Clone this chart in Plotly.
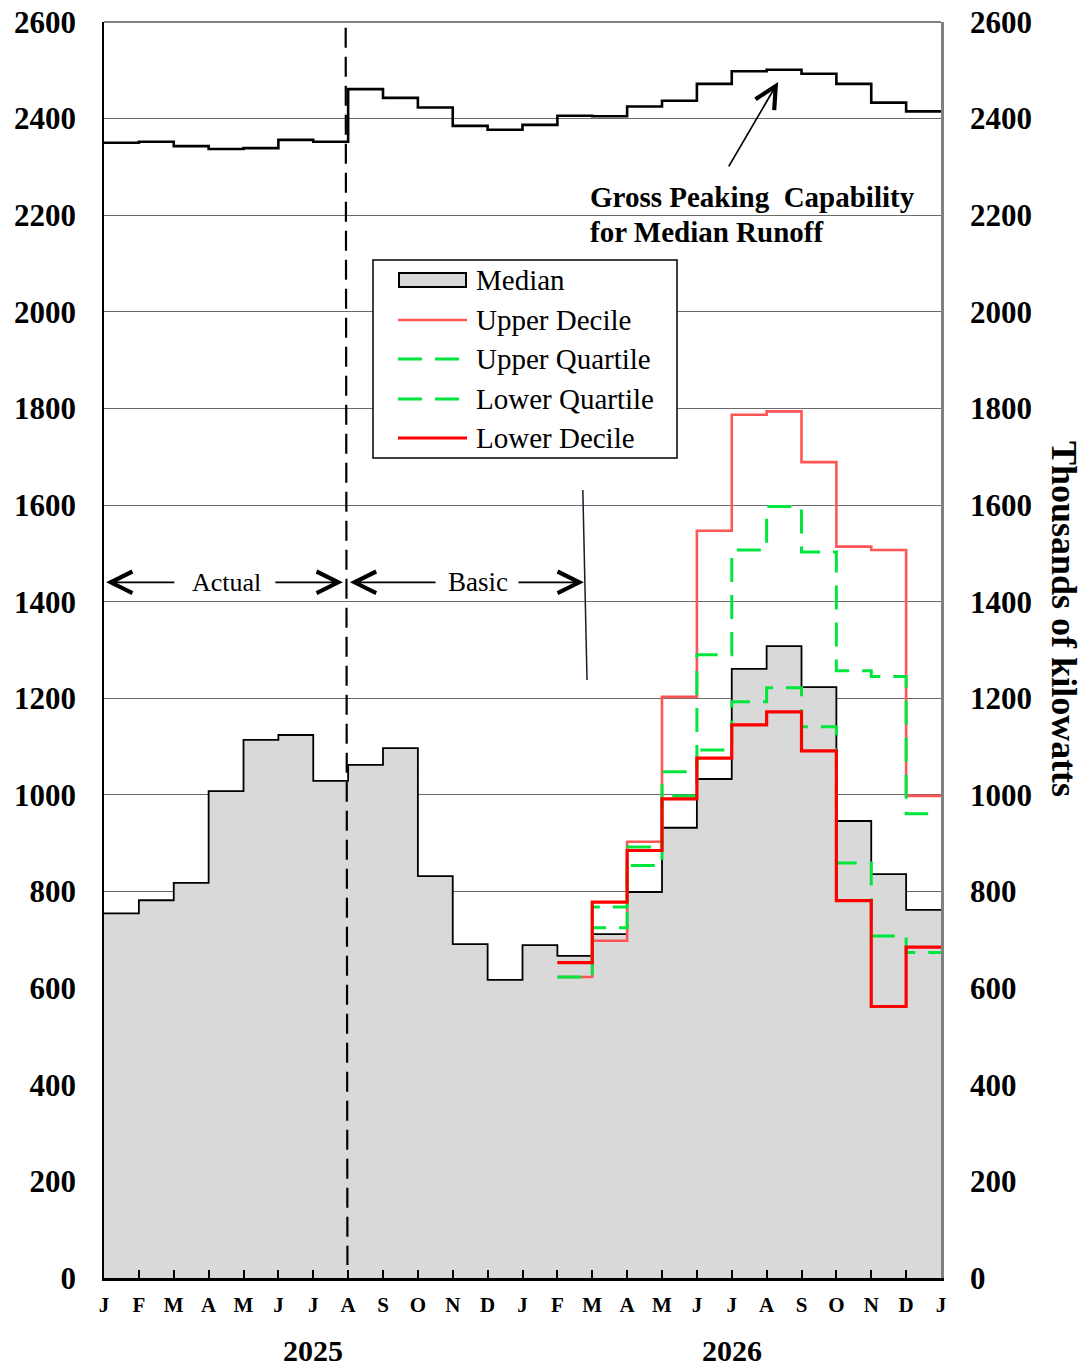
import plotly.graph_objects as go

months = ["J","F","M","A","M","J","J","A","S","O","N","D",
          "J","F","M","A","M","J","J","A","S","O","N","D","J"]
years = ["2025", "2026"]

median = [755, 782, 818, 1008, 1114, 1124, 1029, 1062, 1097, 832, 691, 617,
          689, 667, 712, 799, 932, 1033, 1261, 1308, 1223, 946, 836, 762]
gross = [2350, 2352, 2343, 2337, 2339, 2356, 2352, 2461, 2443, 2423, 2385, 2377,
         2387, 2406, 2405, 2425, 2437, 2472, 2498, 2501, 2493, 2472, 2433, 2415]
# forecast series start at Feb 2026 (month index 13)
upper_decile = [623, 698, 903, 1203, 1547, 1787, 1794, 1689, 1514, 1507, 998]
upper_quartile = [653, 768, 892, 1048, 1290, 1507, 1597, 1503, 1257, 1245, 961]
lower_quartile = [623, 725, 854, 998, 1093, 1193, 1222, 1141, 859, 708, 674]
lower_decile = [653, 778, 885, 992, 1076, 1145, 1172, 1091, 781, 562, 685]

FONT = "Liberation Serif"
DASH = "24px,13px"
C_UD, C_Q, C_LD = "#FF5555", "#00E63C", "#FF0000"

def steps(start, vals):
    xs = list(range(start, start + len(vals) + 1))
    ys = list(vals) + [vals[-1]]
    return xs, ys

fig = go.Figure()

mx, my = steps(0, median)
fig.add_trace(go.Scatter(x=mx, y=my, mode="lines", line=dict(shape="hv", color="black", width=1.8),
                         fill="tozeroy", fillcolor="#D9D9D9", name="Median"))
ux, uy = steps(13, upper_decile)
fig.add_trace(go.Scatter(x=ux, y=uy, mode="lines", line=dict(shape="hv", color=C_UD, width=2.6),
                         name="Upper Decile"))
qx, qy = steps(13, upper_quartile)
fig.add_trace(go.Scatter(x=qx, y=qy, mode="lines",
                         line=dict(shape="hv", color=C_Q, width=3, dash=DASH), name="Upper Quartile"))
lx, ly = steps(13, lower_quartile)
fig.add_trace(go.Scatter(x=lx, y=ly, mode="lines",
                         line=dict(shape="hv", color=C_Q, width=3, dash=DASH), name="Lower Quartile"))
dx, dy = steps(13, lower_decile)
fig.add_trace(go.Scatter(x=dx, y=dy, mode="lines", line=dict(shape="hv", color=C_LD, width=3.2),
                         name="Lower Decile"))
gx, gy = steps(0, gross)
fig.add_trace(go.Scatter(x=gx, y=gy, mode="lines", line=dict(shape="hv", color="black", width=2.6),
                         name="Gross Peaking Capability", yaxis="y2"))

shapes = []
# vertical dashed line separating actual/basic
shapes.append(dict(type="line", x0=6.93, x1=6.98, y0=2588, y1=27, xref="x", yref="y",
                   line=dict(color="black", width=2.2, dash="20px,9px")))
# thin slanted marker line
shapes.append(dict(type="line", x0=13.73, x1=13.85, y0=1631, y1=1238, xref="x", yref="y",
                   line=dict(color="#2a1030", width=1.5)))
# top frame line
shapes.append(dict(type="line", x0=0, x1=1, y0=1, y1=1, xref="paper", yref="paper",
                   line=dict(color="#808080", width=2)))

# ---- legend box (drawn manually for exact symbol look) ----
PX0, PW, PY0, PH = 104, 837, 1278, 1256
def px(v): return (v - PX0) / PW
def py(v): return (PY0 - v) / PH

shapes.append(dict(type="rect", xref="paper", yref="paper", x0=px(373), x1=px(677), y0=py(458), y1=py(260),
                   fillcolor="white", line=dict(color="black", width=1.5)))
legend_items = [("Median", None), ("Upper Decile", dict(color=C_UD, width=2.6)),
                ("Upper Quartile", dict(color=C_Q, width=3, dash=DASH)),
                ("Lower Quartile", dict(color=C_Q, width=3, dash=DASH)),
                ("Lower Decile", dict(color=C_LD, width=3.2))]
legend_y = [280, 320, 359, 399, 438]
ann = []
for (label, style), yc in zip(legend_items, legend_y):
    if style is None:
        shapes.append(dict(type="rect", xref="paper", yref="paper", x0=px(399), x1=px(466),
                           y0=py(yc + 7), y1=py(yc - 7), fillcolor="#D9D9D9",
                           line=dict(color="black", width=2)))
    else:
        shapes.append(dict(type="line", xref="paper", yref="paper", x0=px(398), x1=px(467),
                           y0=py(yc), y1=py(yc), line=style))
    ann.append(dict(x=px(474), y=py(yc), xref="paper", yref="paper", xanchor="left", yanchor="middle",
                    text=label, showarrow=False, font=dict(family=FONT, size=29, color="black")))

def arrow(x_head, x_tail, y):
    ann.append(dict(x=x_head, y=y, ax=x_tail, ay=y, xref="x", yref="y", axref="x", ayref="y",
                    showarrow=True, arrowhead=5, arrowsize=2.5, arrowwidth=1.7, arrowcolor="black",
                    text=""))
arrow(0.06, 2.06, 1440)
arrow(6.85, 4.87, 1440)
arrow(7.05, 9.55, 1440)
arrow(13.76, 11.84, 1440)
ann.append(dict(x=3.5, y=1440, xref="x", yref="y", text="Actual", showarrow=False,
                font=dict(family=FONT, size=26, color="black")))
ann.append(dict(x=10.72, y=1440, xref="x", yref="y", text="Basic", showarrow=False,
                font=dict(family=FONT, size=27, color="black")))
# gross peaking arrow and label
ann.append(dict(x=19.33, y=2476, ax=17.89, ay=2298, xref="x", yref="y", axref="x", ayref="y",
                showarrow=True, arrowhead=5, arrowsize=2.5, arrowwidth=1.7, arrowcolor="black", text=""))
ann.append(dict(x=13.88, y=2238, xref="x", yref="y", xanchor="left", yanchor="middle",
                text="Gross Peaking  Capability", showarrow=False,
                font=dict(family=FONT, size=29, color="black", weight="bold")))
ann.append(dict(x=13.88, y=2166, xref="x", yref="y", xanchor="left", yanchor="middle",
                text="for Median Runoff", showarrow=False,
                font=dict(family=FONT, size=29, color="black", weight="bold")))
# years
for xi, yr in zip([6, 18], years):
    ann.append(dict(x=xi, y=py(1351), xref="x", yref="paper", yanchor="middle", text=yr, showarrow=False,
                    font=dict(family=FONT, size=30, color="black", weight="bold")))
# right axis title
ann.append(dict(x=px(1064), y=py(619), xref="paper", yref="paper", xanchor="center", yanchor="middle",
                text="Thousands of kilowatts", textangle=90, showarrow=False,
                font=dict(family=FONT, size=36, color="black", weight="bold")))

fig.update_layout(
    width=1086, height=1371,
    margin=dict(l=104, r=145, t=22, b=93, autoexpand=False),
    plot_bgcolor="white", paper_bgcolor="white",
    font=dict(family=FONT, color="black"),
    annotations=ann, shapes=shapes, showlegend=False,
    xaxis=dict(range=[0, 24], tickvals=list(range(25)), ticktext=months,
               ticks="inside", ticklen=8, tickwidth=1.5, tickcolor="black",
               showgrid=False, zeroline=False, automargin=False,
               showline=True, linecolor="black", linewidth=3,
               tickfont=dict(family=FONT, size=21, weight="bold"), ticklabelstandoff=6),
    yaxis=dict(range=[0, 2600], dtick=200, showgrid=True, gridcolor="#6a6a6a", gridwidth=1.2,
               zeroline=False, showline=True, linecolor="black", linewidth=1.5, automargin=False,
               tickfont=dict(family=FONT, size=31, weight="bold"), ticklabelstandoff=20),
    yaxis2=dict(range=[0, 2600], dtick=200, overlaying="y", side="right", showgrid=False,
                zeroline=False, showline=True, linecolor="#808080", linewidth=2.5, automargin=False,
                tickfont=dict(family=FONT, size=31, weight="bold"), ticklabelstandoff=20),
)

fig.write_html("out.html")
